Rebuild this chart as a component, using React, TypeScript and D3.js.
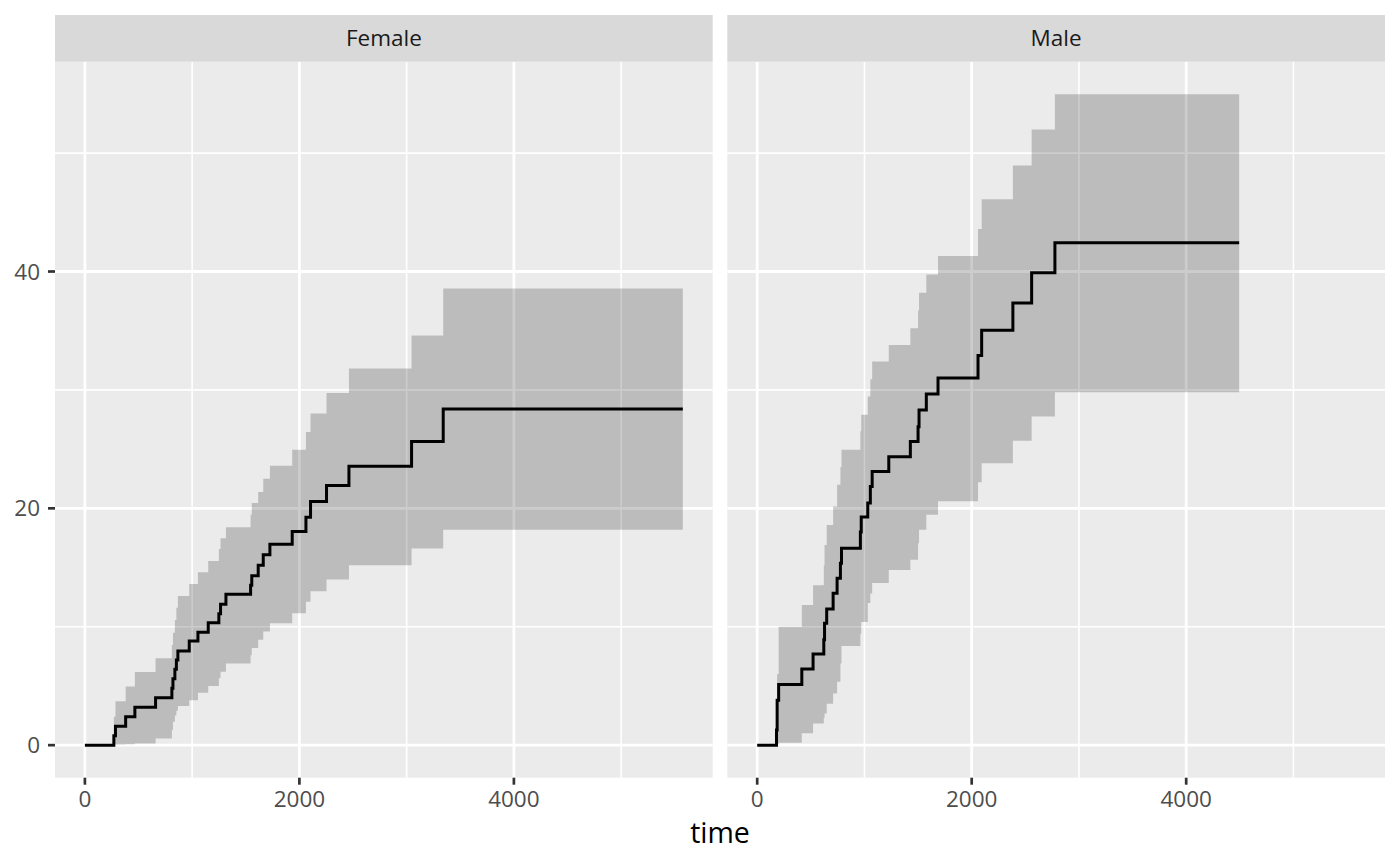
import React, { useEffect, useRef } from 'react';
import * as d3 from 'd3';

// cumulative incidence (%) by sex
const panels = ['Female', 'Male'];

const femaleTime = [0, 270, 285, 380, 466, 659, 811, 821, 839, 853, 867, 973, 1054, 1150, 1249, 1265, 1315, 1545, 1556, 1616, 1663, 1725, 1933, 2061, 2104, 2253, 2462, 3046, 3341, 5575];
const femaleEst = [0, 0.8, 1.6, 2.4, 3.2, 4.0, 4.8, 5.6, 6.4, 7.2, 7.95, 8.8, 9.53, 10.34, 11.1, 11.9, 12.74, 13.5, 14.3, 15.2, 16.07, 16.97, 18.04, 19.25, 20.58, 21.93, 23.55, 25.65, 28.39, 28.39];
const femaleLower = [0, 0.03, 0.05, 0.08, 0.15, 0.56, 1.27, 1.97, 2.5, 2.9, 3.3, 3.8, 4.42, 5.0, 5.64, 6.2, 6.9, 7.6, 8.2, 8.9, 9.6, 10.3, 11.14, 12.12, 13.0, 14.0, 15.2, 16.6, 18.2, 18.2];
const femaleUpper = [0, 2.4, 3.7, 4.96, 6.17, 7.33, 8.46, 9.5, 10.57, 11.6, 12.6, 13.6, 14.6, 15.56, 16.57, 17.48, 18.4, 19.45, 20.44, 21.37, 22.5, 23.6, 24.95, 26.45, 28.0, 29.74, 31.8, 34.6, 38.56, 38.56];

const maleTime = [0, 180, 186, 200, 416, 521, 621, 628, 648, 708, 745, 776, 786, 962, 970, 1031, 1055, 1072, 1227, 1428, 1500, 1509, 1577, 1686, 2059, 2093, 2384, 2559, 2776, 4494];
const maleEst = [0, 1.27, 3.8, 5.13, 6.43, 7.7, 8.9, 10.3, 11.5, 12.83, 14.1, 15.37, 16.63, 18.0, 19.26, 20.44, 21.85, 23.1, 24.35, 25.65, 26.9, 28.3, 29.66, 31.0, 32.9, 35.04, 37.35, 39.9, 42.43, 42.43];
const maleLower = [0, 0.05, 0.1, 0.2, 1.0, 1.83, 2.3, 2.68, 3.5, 4.37, 5.35, 6.9, 8.37, 9.4, 10.4, 12.0, 12.8, 13.7, 14.8, 15.65, 17.06, 18.2, 19.45, 20.6, 22.2, 23.8, 25.7, 27.76, 29.8, 29.8];
const maleUpper = [0, 2.5, 6.0, 10.0, 11.84, 13.5, 15.2, 16.9, 18.6, 20.15, 22.0, 23.5, 24.95, 26.5, 27.9, 29.45, 30.9, 32.4, 33.8, 35.2, 36.7, 38.2, 39.75, 41.3, 43.6, 46.1, 48.96, 52.0, 54.97, 54.97];

const xTicks = [0, 2000, 4000];
const xMinor = [1000, 3000, 5000];
const yTicks = [0, 20, 40];
const yMinor = [10, 30, 50];

interface Row { time: number; est: number; lower: number; upper: number; }

const toRows = (t: number[], e: number[], lo: number[], up: number[]): Row[] =>
  t.map((time, i) => ({ time, est: e[i], lower: lo[i], upper: up[i] }));

const App: React.FC = () => {
  const svgRef = useRef<SVGSVGElement>(null);

  useEffect(() => {
    if (!svgRef.current) return;
    const svg = d3.select(svgRef.current);
    svg.selectAll('*').remove();

    const width = 1400;
    const height = 866;
    const stripTop = 15;
    const stripH = 46.7;
    const panelTop = stripTop + stripH;
    const panelBottom = 777.7;
    const panelLefts = [55, 727.3];
    const panelW = 657.7;
    const font = "'Open Sans', 'DejaVu Sans', sans-serif";

    const data = [
      toRows(femaleTime, femaleEst, femaleLower, femaleUpper),
      toRows(maleTime, maleEst, maleLower, maleUpper),
    ];

    // ggplot style 5% expansion on both axes
    const xMax = d3.max(data.flat(), d => d.time) ?? 0;
    const yMax = d3.max(data.flat(), d => d.upper) ?? 0;
    const x = d3.scaleLinear().domain([-xMax * 0.05, xMax * 1.05]).range([0, panelW]);
    const y = d3.scaleLinear().domain([-yMax * 0.05, yMax * 1.05]).range([panelBottom, panelTop]);

    svg.attr('width', width).attr('height', height);
    svg.append('rect').attr('width', width).attr('height', height).attr('fill', '#ffffff');

    const band = d3.area<Row>()
      .x(d => x(d.time))
      .y0(d => y(d.lower))
      .y1(d => y(d.upper))
      .curve(d3.curveStepAfter);

    const line = d3.line<Row>()
      .x(d => x(d.time))
      .y(d => y(d.est))
      .curve(d3.curveStepAfter);

    panels.forEach((name, i) => {
      const g = svg.append('g').attr('transform', `translate(${panelLefts[i]},0)`);

      // panel background
      g.append('rect')
        .attr('x', 0).attr('y', panelTop)
        .attr('width', panelW).attr('height', panelBottom - panelTop)
        .attr('fill', '#EBEBEB');

      // minor grid
      xMinor.forEach(v => {
        g.append('line')
          .attr('x1', x(v)).attr('x2', x(v))
          .attr('y1', panelTop).attr('y2', panelBottom)
          .attr('stroke', '#ffffff').attr('stroke-width', 1.6);
      });
      yMinor.forEach(v => {
        g.append('line')
          .attr('x1', 0).attr('x2', panelW)
          .attr('y1', y(v)).attr('y2', y(v))
          .attr('stroke', '#ffffff').attr('stroke-width', 1.6);
      });

      // major grid
      xTicks.forEach(v => {
        g.append('line')
          .attr('x1', x(v)).attr('x2', x(v))
          .attr('y1', panelTop).attr('y2', panelBottom)
          .attr('stroke', '#ffffff').attr('stroke-width', 2.8);
      });
      yTicks.forEach(v => {
        g.append('line')
          .attr('x1', 0).attr('x2', panelW)
          .attr('y1', y(v)).attr('y2', y(v))
          .attr('stroke', '#ffffff').attr('stroke-width', 2.8);
      });

      // confidence band + estimate
      g.append('path')
        .datum(data[i])
        .attr('d', band)
        .attr('fill', '#000000')
        .attr('fill-opacity', 0.2);

      g.append('path')
        .datum(data[i])
        .attr('d', line)
        .attr('fill', 'none')
        .attr('stroke', '#000000')
        .attr('stroke-width', 3);

      // strip
      g.append('rect')
        .attr('x', 0).attr('y', stripTop)
        .attr('width', panelW).attr('height', stripH)
        .attr('fill', '#D9D9D9');
      g.append('text')
        .attr('x', panelW / 2)
        .attr('y', stripTop + stripH / 2)
        .attr('dy', '0.36em')
        .attr('text-anchor', 'middle')
        .style('font-family', font)
        .style('font-size', '22.5px')
        .style('fill', '#1A1A1A')
        .text(name);

      // x axis
      xTicks.forEach(v => {
        g.append('line')
          .attr('x1', x(v)).attr('x2', x(v))
          .attr('y1', panelBottom).attr('y2', panelBottom + 7)
          .attr('stroke', '#333333').attr('stroke-width', 2.7);
        g.append('text')
          .attr('x', x(v))
          .attr('y', panelBottom + 29.5)
          .attr('text-anchor', 'middle')
          .style('font-family', font)
          .style('font-size', '22.5px')
          .style('fill', '#4D4D4D')
          .text(String(v));
      });

      // y axis on first panel only
      if (i === 0) {
        yTicks.forEach(v => {
          g.append('line')
            .attr('x1', -7).attr('x2', 0)
            .attr('y1', y(v)).attr('y2', y(v))
            .attr('stroke', '#333333').attr('stroke-width', 2.7);
          g.append('text')
            .attr('x', -15)
            .attr('y', y(v))
            .attr('dy', '0.36em')
            .attr('text-anchor', 'end')
            .style('font-family', font)
            .style('font-size', '22.5px')
            .style('fill', '#4D4D4D')
            .text(String(v));
        });
      }
    });

    // x axis title
    svg.append('text')
      .attr('x', (panelLefts[0] + panelLefts[1] + panelW) / 2)
      .attr('y', 843)
      .attr('text-anchor', 'middle')
      .style('font-family', font)
      .style('font-size', '28.5px')
      .style('fill', '#000000')
      .text('time');
  }, []);

  return <svg ref={svgRef} style={{ position: 'absolute', left: 0, top: 0, display: 'block' }}></svg>;
};

export default App;
